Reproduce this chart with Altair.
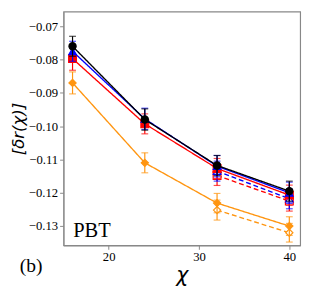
import altair as alt
import pandas as pd

chi = [16, 24, 32, 40]
chi_open = [32, 40]

black_solid = [-0.0760, -0.0980, -0.1118, -0.1195]
black_err = [0.0030, 0.0032, 0.0030, 0.0030]
blue_solid = [-0.0775, -0.0978, -0.1120, -0.1200]
blue_err = [0.0030, 0.0032, 0.0032, 0.0032]
red_solid = [-0.0797, -0.0993, -0.1127, -0.1207]
red_err = [0.0035, 0.0030, 0.0030, 0.0030]
orange_solid = [-0.0870, -0.1110, -0.1231, -0.1300]
orange_err = [0.0033, 0.0030, 0.0029, 0.0028]

blue_open = [-0.1135, -0.1218]
blue_open_err = [0.0030, 0.0030]
red_open = [-0.1148, -0.1225]
red_open_err = [0.0030, 0.0030]
orange_open = [-0.1252, -0.1320]
orange_open_err = [0.0030, 0.0028]

ORANGE = "#ff9510"
series = [
    ("orange_open", chi_open, orange_open, orange_open_err, ORANGE, "diamond", False, [5, 3]),
    ("red_open", chi_open, red_open, red_open_err, "#ff0000", "square", False, [5, 3]),
    ("blue_open", chi_open, blue_open, blue_open_err, "#0000ff", "triangle-up", False, [5, 3]),
    ("orange_solid", chi, orange_solid, orange_err, ORANGE, "diamond", True, [1, 0]),
    ("red_solid", chi, red_solid, red_err, "#ff0000", "square", True, [1, 0]),
    ("blue_solid", chi, blue_solid, blue_err, "#0000ff", "triangle-up", True, [1, 0]),
    ("black_solid", chi, black_solid, black_err, "#000000", "circle", True, [1, 0]),
]

xs = alt.Scale(domain=[15.0, 41.2], nice=False, zero=False)
ys = alt.Scale(domain=[-0.1358, -0.0656], nice=False, zero=False)

xaxis = alt.Axis(values=[20, 30, 40], title="χ", grid=False, format="d",
                 titleFont="DejaVu Sans", titleFontStyle="italic", titleFontSize=21,
                 titleFontWeight="normal", titlePadding=1)
yaxis = alt.Axis(values=[-0.07, -0.08, -0.09, -0.10, -0.11, -0.12, -0.13], title="[δr(χ)]",
                 grid=False, format=".2f", titleFont="DejaVu Sans", titleFontStyle="italic",
                 titleFontSize=17, titleFontWeight="normal", titlePadding=1)

X = alt.X("chi:Q", scale=xs, axis=xaxis)

layers = []
for name, xv, yv, ev, col, shape, filled, dash in series:
    df = pd.DataFrame({"chi": xv, "val": yv, "err": ev})
    df["lo"] = df["val"] - df["err"]
    df["hi"] = df["val"] + df["err"]
    base = alt.Chart(df)
    line = base.mark_line(color=col, strokeWidth=1.4, strokeDash=dash).encode(
        x=X, y=alt.Y("val:Q", scale=ys, axis=yaxis))
    rule = base.mark_rule(color=col, strokeWidth=1.2).encode(
        x=X, y=alt.Y("lo:Q", scale=ys, axis=yaxis), y2="hi:Q")
    caplo = base.mark_tick(color=col, orient="horizontal", size=7, thickness=1.2).encode(
        x=X, y=alt.Y("lo:Q", scale=ys, axis=yaxis))
    caphi = base.mark_tick(color=col, orient="horizontal", size=7, thickness=1.2).encode(
        x=X, y=alt.Y("hi:Q", scale=ys, axis=yaxis))
    sz = {"circle": 55, "square": 64, "triangle-up": 60, "diamond": 55}[shape]
    pts = base.mark_point(shape=shape, filled=filled, size=sz, color=col,
                          fill=col if filled else "white", stroke=col, strokeWidth=1.2,
                          opacity=1, fillOpacity=1).encode(
        x=X, y=alt.Y("val:Q", scale=ys, axis=yaxis))
    layers += [line, rule, caplo, caphi, pts]

label_df = pd.DataFrame({"t": ["PBT"]})
pbt = alt.Chart(label_df).mark_text(font="Liberation Serif", fontSize=21, align="left",
                                     baseline="alphabetic", color="black").encode(
    text="t:N", x=alt.value(10), y=alt.value(231))
blab = alt.Chart(pd.DataFrame({"t": ["(b)"]})).mark_text(font="Liberation Serif", fontSize=20,
                                     align="left", baseline="alphabetic", color="black").encode(
    text="t:N", x=alt.value(-45), y=alt.value(267))

chart = alt.layer(*layers, pbt, blab).properties(
    width=243, height=240,
    autosize=alt.AutoSizeParams(type="none"),
    padding={"left": 57, "top": 0, "right": 6, "bottom": 40},
).configure_view(stroke="#888888", strokeWidth=1.2).configure_axis(
    labelFont="Liberation Serif", labelFontSize=13, labelColor="black",
    domainColor="#888888", tickColor="#888888", tickSize=4, labelPadding=2,
    titleColor="black",
)

chart.save("out.html", embed_options={"renderer": "svg", "actions": False})
